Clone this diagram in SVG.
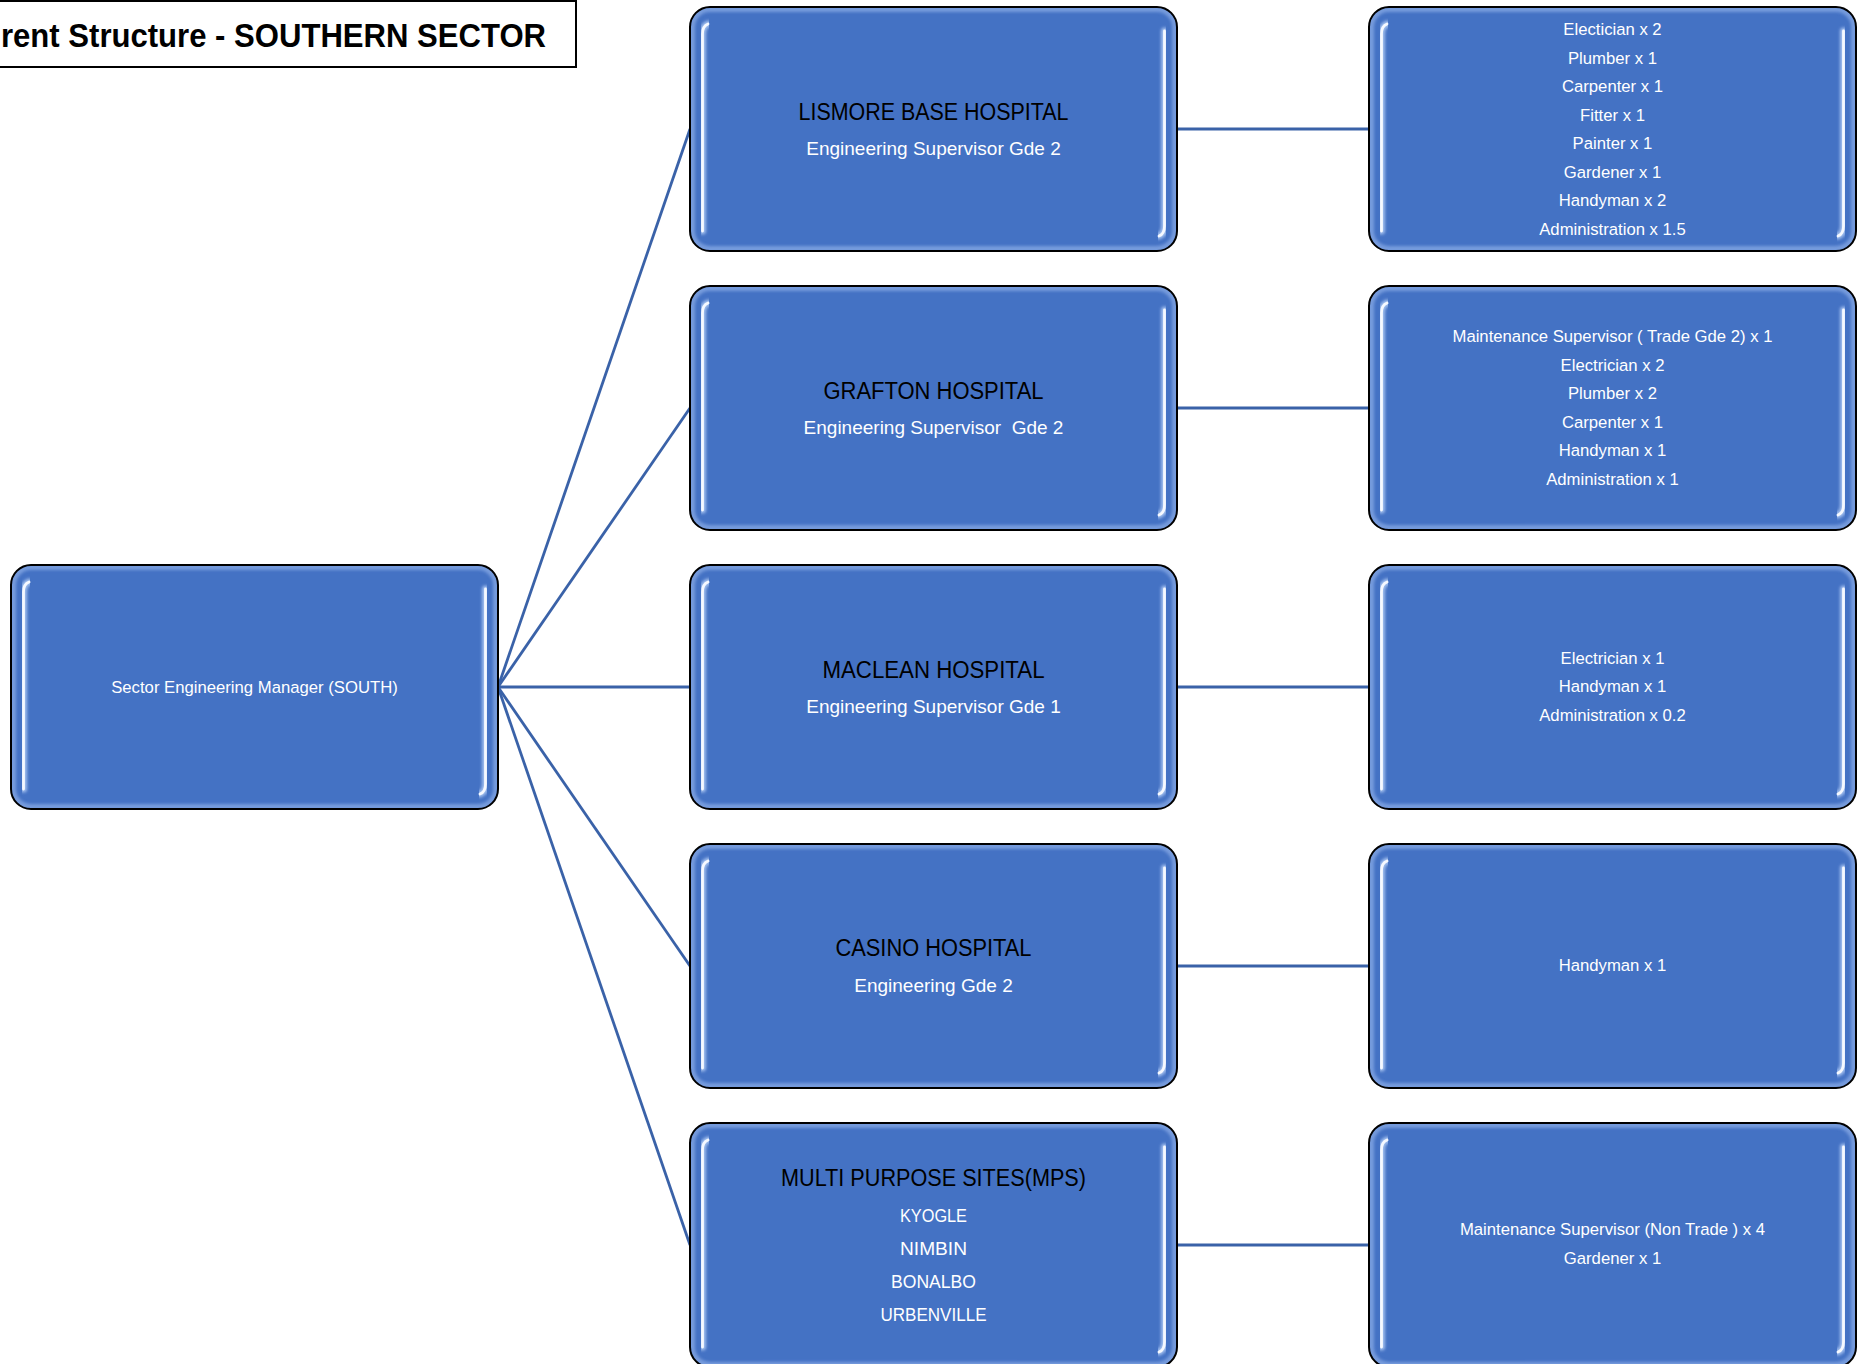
<svg xmlns="http://www.w3.org/2000/svg" xmlns:xlink="http://www.w3.org/1999/xlink" width="1860" height="1364" viewBox="0 0 1860 1364">
<style>
.t{font-family:"Liberation Sans",Arial,sans-serif;text-anchor:middle}
.h{font-size:23.5px;fill:#000}
.s{font-size:19px;fill:#fff}
.l{font-size:16.7px;fill:#fff}
.cn{stroke:#3A62A8;stroke-width:2.8;fill:none}
.hlg{stroke:#B3CDF6;stroke-width:7;fill:none;stroke-linecap:round;opacity:.85}
.hl{stroke:#F6F9FF;stroke-width:2.8;fill:none;stroke-linecap:round}
</style>
<defs>
<filter id="blur" x="-10%" y="-10%" width="120%" height="120%"><feGaussianBlur stdDeviation="1.6"/></filter>
<clipPath id="boxclip"><rect width="487" height="244" rx="20"/></clipPath>
<g id="box">
<rect width="487" height="244" rx="20" fill="#4472C4"/>
<rect x="2" y="2" width="483" height="240" rx="18" fill="none" stroke="#93B2EA" stroke-width="6" opacity="0.65" filter="url(#blur)" clip-path="url(#boxclip)"/>
<path class="hlg" d="M12.5,224 V27 Q12.5,19 18,17" filter="url(#blur)"/>
<path class="hl" d="M12.5,224 V27 Q12.5,19 18,17"/>
<path class="hlg" d="M474.5,24 V219 Q474.5,227 469,229" filter="url(#blur)"/>
<path class="hl" d="M474.5,24 V219 Q474.5,227 469,229"/>
<rect width="487" height="244" rx="20" fill="none" stroke="#000" stroke-width="2"/>
</g>
</defs>
<rect width="1860" height="1364" fill="#fff"/>

<g id="title">
<rect x="-3" y="1" width="579" height="66" fill="#fff" stroke="#000" stroke-width="2"/>
<text x="1" y="47" font-family="Liberation Sans, Arial, sans-serif" font-weight="bold" font-size="34" textLength="545" lengthAdjust="spacingAndGlyphs">rent Structure - SOUTHERN SECTOR</text>
</g>

<g id="connectors">
<line class="cn" x1="498" y1="687" x2="690" y2="129"/>
<line class="cn" x1="498" y1="687" x2="690" y2="408"/>
<line class="cn" x1="498" y1="687" x2="690" y2="687"/>
<line class="cn" x1="498" y1="687" x2="690" y2="966"/>
<line class="cn" x1="498" y1="687" x2="690" y2="1245"/>
<line class="cn" x1="1177" y1="129" x2="1369" y2="129"/>
<line class="cn" x1="1177" y1="408" x2="1369" y2="408"/>
<line class="cn" x1="1177" y1="687" x2="1369" y2="687"/>
<line class="cn" x1="1177" y1="966" x2="1369" y2="966"/>
<line class="cn" x1="1177" y1="1245" x2="1369" y2="1245"/>
</g>

<g id="manager">
<use xlink:href="#box" href="#box" x="11" y="565"/>
<text class="t l" x="254.5" y="693">Sector Engineering Manager (SOUTH)</text>
</g>

<g id="lismore">
<use xlink:href="#box" href="#box" x="690" y="7"/>
<text class="t h" x="933.5" y="120" textLength="270" lengthAdjust="spacingAndGlyphs">LISMORE BASE HOSPITAL</text>
<text class="t s" x="933.5" y="155">Engineering Supervisor Gde 2</text>
</g>

<g id="grafton">
<use xlink:href="#box" href="#box" x="690" y="286"/>
<text class="t h" x="933.5" y="399" textLength="220" lengthAdjust="spacingAndGlyphs">GRAFTON HOSPITAL</text>
<text class="t s" x="933.5" y="434" xml:space="preserve">Engineering Supervisor  Gde 2</text>
</g>

<g id="maclean">
<use xlink:href="#box" href="#box" x="690" y="565"/>
<text class="t h" x="933.5" y="678" textLength="222" lengthAdjust="spacingAndGlyphs">MACLEAN HOSPITAL</text>
<text class="t s" x="933.5" y="713">Engineering Supervisor Gde 1</text>
</g>

<g id="casino">
<use xlink:href="#box" href="#box" x="690" y="844"/>
<text class="t h" x="933.5" y="956" textLength="196" lengthAdjust="spacingAndGlyphs">CASINO HOSPITAL</text>
<text class="t s" x="933.5" y="992">Engineering Gde 2</text>
</g>

<g id="mps">
<use xlink:href="#box" href="#box" x="690" y="1123"/>
<text class="t h" x="933.5" y="1186" textLength="305" lengthAdjust="spacingAndGlyphs">MULTI PURPOSE SITES(MPS)</text>
<text class="t s" x="933.5" y="1222" textLength="67" lengthAdjust="spacingAndGlyphs">KYOGLE</text>
<text class="t s" x="933.5" y="1255" textLength="67" lengthAdjust="spacingAndGlyphs">NIMBIN</text>
<text class="t s" x="933.5" y="1288" textLength="85" lengthAdjust="spacingAndGlyphs">BONALBO</text>
<text class="t s" x="933.5" y="1321" textLength="106" lengthAdjust="spacingAndGlyphs">URBENVILLE</text>
</g>

<g id="lismore-staff">
<use xlink:href="#box" href="#box" x="1369" y="7"/>
<text class="t l" x="1612.5" y="35">Electician x 2</text>
<text class="t l" x="1612.5" y="63.5">Plumber x 1</text>
<text class="t l" x="1612.5" y="92">Carpenter x 1</text>
<text class="t l" x="1612.5" y="120.5">Fitter x 1</text>
<text class="t l" x="1612.5" y="149">Painter x 1</text>
<text class="t l" x="1612.5" y="177.5">Gardener x 1</text>
<text class="t l" x="1612.5" y="206">Handyman x 2</text>
<text class="t l" x="1612.5" y="234.5">Administration x 1.5</text>
</g>

<g id="grafton-staff">
<use xlink:href="#box" href="#box" x="1369" y="286"/>
<text class="t l" x="1612.5" y="342">Maintenance Supervisor ( Trade Gde 2) x 1</text>
<text class="t l" x="1612.5" y="370.5">Electrician x 2</text>
<text class="t l" x="1612.5" y="399">Plumber x 2</text>
<text class="t l" x="1612.5" y="427.5">Carpenter x 1</text>
<text class="t l" x="1612.5" y="456">Handyman x 1</text>
<text class="t l" x="1612.5" y="484.5">Administration x 1</text>
</g>

<g id="maclean-staff">
<use xlink:href="#box" href="#box" x="1369" y="565"/>
<text class="t l" x="1612.5" y="663.5">Electrician x 1</text>
<text class="t l" x="1612.5" y="692">Handyman x 1</text>
<text class="t l" x="1612.5" y="720.5">Administration x 0.2</text>
</g>

<g id="casino-staff">
<use xlink:href="#box" href="#box" x="1369" y="844"/>
<text class="t l" x="1612.5" y="970.5">Handyman x 1</text>
</g>

<g id="mps-staff">
<use xlink:href="#box" href="#box" x="1369" y="1123"/>
<text class="t l" x="1612.5" y="1235">Maintenance Supervisor (Non Trade ) x 4</text>
<text class="t l" x="1612.5" y="1263.5">Gardener x 1</text>
</g>
</svg>
